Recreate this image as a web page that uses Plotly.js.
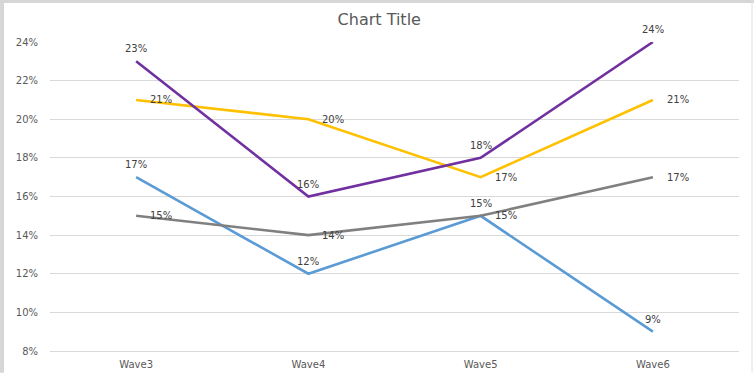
<!DOCTYPE html>
<html>
<head>
<meta charset="utf-8">
<script src="https://cdn.plot.ly/plotly-3.0.1.min.js"></script>
<style>html,body{margin:0;padding:0;background:#fff;}#chart{width:754px;height:375px;}</style>
</head>
<body>
<div id="chart"></div>
<script>
const categories = ["Wave3", "Wave4", "Wave5", "Wave6"];
const purpleValues = [0.23, 0.16, 0.18, 0.24];
const yellowValues = [0.21, 0.20, 0.17, 0.21];
const grayValues = [0.15, 0.14, 0.15, 0.17];
const blueValues = [0.17, 0.12, 0.15, 0.09];
const yTickValues = [0.08, 0.10, 0.12, 0.14, 0.16, 0.18, 0.20, 0.22, 0.24];

const FONT = "DejaVu Sans, sans-serif";

const series = [
  {values: blueValues, color: "#5B9BD5", label: "top"},
  {values: grayValues, color: "#808080", label: "right"},
  {values: yellowValues, color: "#FFC000", label: "right"},
  {values: purpleValues, color: "#7030A0", label: "top"}
];

const traces = series.map(s => ({
  type: "scatter",
  mode: "lines",
  x: categories,
  y: s.values,
  line: {color: s.color, width: 2.6},
  hoverinfo: "skip",
  showlegend: false
}));

const annotations = [];
series.forEach(s => {
  s.values.forEach((v, i) => {
    const a = {
      x: categories[i], y: v, xref: "x", yref: "y",
      text: Math.round(v * 100) + "%",
      showarrow: false,
      font: {family: FONT, size: 10, color: "#404040"}
    };
    if (s.label === "top") {
      a.xanchor = "center"; a.yanchor = "bottom"; a.yshift = 5;
    } else {
      a.xanchor = "left"; a.yanchor = "middle"; a.xshift = 12;
    }
    annotations.push(a);
  });
});

const layout = {
  width: 754, height: 375,
  paper_bgcolor: "#ffffff",
  plot_bgcolor: "#ffffff",
  margin: {l: 50, r: 15, t: 42, b: 24},
  font: {family: FONT, size: 10, color: "#595959"},
  title: {
    text: "Chart Title",
    font: {family: FONT, size: 16, color: "#595959"},
    x: 0.503, xref: "container", xanchor: "center",
    y: 0.947, yanchor: "middle", yref: "container"
  },
  xaxis: {
    type: "category",
    range: [-0.5, 3.5],
    showgrid: false,
    showline: true, linecolor: "#d9d9d9", linewidth: 1,
    ticks: "", zeroline: false,
    ticklabelstandoff: 4,
    tickfont: {family: FONT, size: 10, color: "#595959"}
  },
  yaxis: {
    range: [0.08, 0.24],
    tickvals: yTickValues,
    tickformat: ".0%",
    showgrid: true, gridcolor: "#d9d9d9", gridwidth: 1,
    zeroline: false, showline: false, ticks: "",
    ticklabelstandoff: 11,
    tickfont: {family: FONT, size: 10, color: "#595959"}
  },
  annotations: annotations,
  shapes: [
    {type: "rect", xref: "paper", yref: "paper", x0: -0.0725, x1: -0.0667, y0: -0.07, y1: 1.14, fillcolor: "#d6d6d6", line: {width: 0}, layer: "above"},
    {type: "rect", xref: "paper", yref: "paper", x0: -0.0725, x1: 1.03, y0: 1.126, y1: 1.14, fillcolor: "#d6d6d6", line: {width: 0}, layer: "above"},
    {type: "line", xref: "paper", yref: "paper", x0: 1.0189, x1: 1.0189, y0: -0.07, y1: 1.14, line: {color: "#e0e0e0", width: 1}, layer: "above"}
  ]
};

Plotly.newPlot("chart", traces, layout, {displayModeBar: false, staticPlot: true});
</script>
</body>
</html>
